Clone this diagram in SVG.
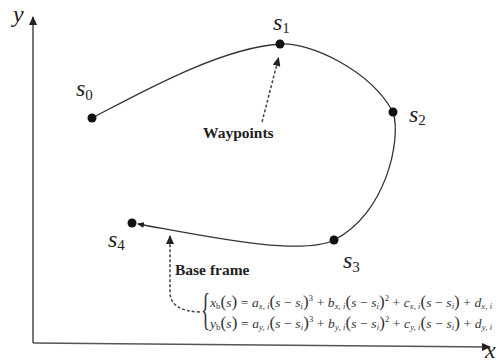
<svg xmlns="http://www.w3.org/2000/svg" width="499" height="362" viewBox="0 0 499 362">
<style>
.axis{stroke:#555;stroke-width:1.6;fill:none}
.curve{stroke:#333;stroke-width:1.3;fill:none}
.dash{stroke:#444;stroke-width:1.5;fill:none;stroke-dasharray:3 2}
.dot{fill:#111}
.lbl{font-family:"Liberation Serif","Times New Roman",serif;font-style:italic;font-size:24px;fill:#222}
.num{font-style:normal;font-size:15px}
.note{font-family:"Liberation Serif","Times New Roman",serif;font-weight:bold;font-size:15.5px;fill:#222}
.eq{font-family:"Liberation Serif","Times New Roman",serif;font-style:italic;font-size:13.5px;fill:#333}
.up{font-style:normal}
.sm{font-size:8.5px}
.par{font-style:normal;font-size:17px}
</style>
<defs>
<marker id="ah" markerUnits="userSpaceOnUse" markerWidth="9" markerHeight="8" refX="8" refY="4" orient="auto">
<path d="M0,0 L9,4 L0,8 z" fill="#222"/>
</marker>
<marker id="ahs" markerUnits="userSpaceOnUse" markerWidth="7" markerHeight="6" refX="6" refY="3" orient="auto">
<path d="M0,0 L7,3 L0,6 z" fill="#222"/>
</marker>
</defs>
<g id="axes">
<line class="axis" x1="33" y1="343" x2="33" y2="17" marker-end="url(#ah)"/>
<line class="axis" x1="33" y1="343" x2="490" y2="347" marker-end="url(#ah)"/>
<text class="lbl" x="13" y="22">y</text>
<text class="lbl" x="485" y="358">x</text>
</g>
<g id="connectors">
<path id="spline" class="curve" d="M92,118 C140,93 220,48 280,44 C310,42 370,70 393,112 C402,140 385,215 334,240 C300,257 200,235 138,224" marker-end="url(#ahs)"/>
<path id="wp-arrow" class="dash" d="M262,122 L278.5,58" marker-end="url(#ah)"/>
<path id="bf-arrow" class="dash" d="M200,312 Q170,311 170,292 L170,236" marker-end="url(#ah)"/>
</g>
<g id="s0"><circle class="dot" cx="92" cy="118" r="4.5"/><text class="lbl" x="76" y="96">s<tspan class="num" dy="4">0</tspan></text></g>
<g id="s1"><circle class="dot" cx="280" cy="44" r="4.5"/><text class="lbl" x="273" y="30">s<tspan class="num" dy="3">1</tspan></text></g>
<g id="s2"><circle class="dot" cx="393" cy="112" r="4.5"/><text class="lbl" x="409" y="122">s<tspan class="num" dy="3">2</tspan></text></g>
<g id="s3"><circle class="dot" cx="334" cy="240" r="4.5"/><text class="lbl" x="343" y="268">s<tspan class="num" dy="4">3</tspan></text></g>
<g id="s4"><circle class="dot" cx="132" cy="223" r="4.5"/><text class="lbl" x="108" y="247">s<tspan class="num" dy="3">4</tspan></text></g>
<g id="waypoints"><text class="note" x="203" y="138">Waypoints</text></g>
<g id="base-frame">
<text class="note" x="175" y="275">Base frame</text>
<text class="eq up" transform="translate(201,324) scale(0.42,1)" style="font-size:45px;font-style:normal">{</text>
<text class="eq" x="210" y="307" textLength="282" lengthAdjust="spacing">x<tspan class="sm up" dy="2">b</tspan><tspan class="par" dy="-2">(</tspan>s<tspan class="par">)</tspan><tspan class="up"> = </tspan>a<tspan class="sm" dy="2">x, i</tspan><tspan class="par" dy="-2">(</tspan>s<tspan class="up"> − </tspan>s<tspan class="sm" dy="2">i</tspan><tspan class="par" dy="-2">)</tspan><tspan class="sm up" dy="-6">3</tspan><tspan class="up" dy="6"> + </tspan>b<tspan class="sm" dy="2">x, i</tspan><tspan class="par" dy="-2">(</tspan>s<tspan class="up"> − </tspan>s<tspan class="sm" dy="2">i</tspan><tspan class="par" dy="-2">)</tspan><tspan class="sm up" dy="-6">2</tspan><tspan class="up" dy="6"> + </tspan>c<tspan class="sm" dy="2">x, i</tspan><tspan class="par" dy="-2">(</tspan>s<tspan class="up"> − </tspan>s<tspan class="sm" dy="2">i</tspan><tspan class="par" dy="-2">)</tspan><tspan class="up"> + </tspan>d<tspan class="sm" dy="2">x, i</tspan></text>
<text class="eq" x="210" y="328" textLength="282" lengthAdjust="spacing">y<tspan class="sm up" dy="2">b</tspan><tspan class="par" dy="-2">(</tspan>s<tspan class="par">)</tspan><tspan class="up"> = </tspan>a<tspan class="sm" dy="2">y, i</tspan><tspan class="par" dy="-2">(</tspan>s<tspan class="up"> − </tspan>s<tspan class="sm" dy="2">i</tspan><tspan class="par" dy="-2">)</tspan><tspan class="sm up" dy="-6">3</tspan><tspan class="up" dy="6"> + </tspan>b<tspan class="sm" dy="2">y, i</tspan><tspan class="par" dy="-2">(</tspan>s<tspan class="up"> − </tspan>s<tspan class="sm" dy="2">i</tspan><tspan class="par" dy="-2">)</tspan><tspan class="sm up" dy="-6">2</tspan><tspan class="up" dy="6"> + </tspan>c<tspan class="sm" dy="2">y, i</tspan><tspan class="par" dy="-2">(</tspan>s<tspan class="up"> − </tspan>s<tspan class="sm" dy="2">i</tspan><tspan class="par" dy="-2">)</tspan><tspan class="up"> + </tspan>d<tspan class="sm" dy="2">y, i</tspan></text>
</g>
</svg>
